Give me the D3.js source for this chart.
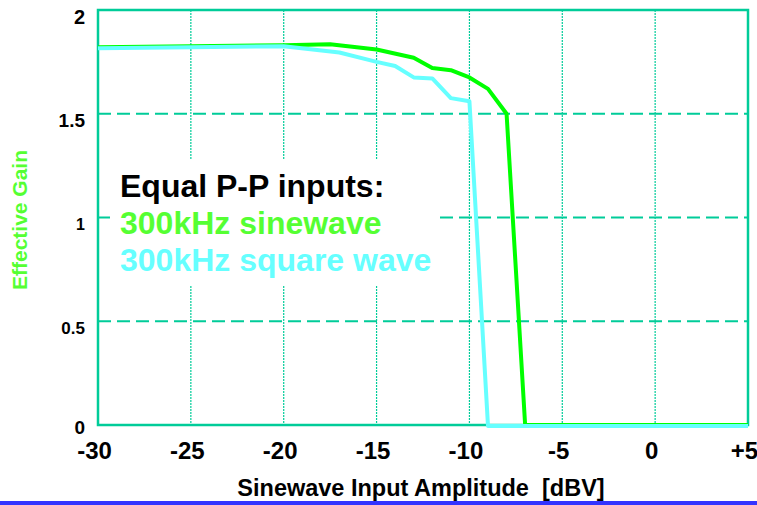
<!DOCTYPE html>
<html lang="en">
<head>
  <meta charset="UTF-8">
  <title>Effective Gain</title>
  <script src="https://cdn.jsdelivr.net/npm/d3@7"></script>
  <style>
    body { margin: 0; background: #fff; }
    text { font-family: Arial, "Liberation Sans", sans-serif; font-weight: bold; }
  </style>
</head>
<body>
<svg class="chart"></svg>
<script>
  var svgWidth = 757;
  var svgHeight = 505;

  // data
  var sineX = [-30, -25, -20, -17.5, -15, -13, -12, -11, -10, -9, -8, -7, 5];
  var sineGain = [1.82, 1.825, 1.83, 1.835, 1.81, 1.77, 1.72, 1.71, 1.675, 1.62, 1.5, 0, 0];
  var squareX = [-30, -25, -20, -17, -15, -14, -13, -12, -11, -10, -9, 5];
  var squareGain = [1.82, 1.825, 1.83, 1.80, 1.755, 1.735, 1.68, 1.675, 1.58, 1.565, 0, 0];

  var xTicks = [-30, -25, -20, -15, -10, -5, 0, 5];
  var xTickLabels = ['-30', '-25', '-20', '-15', '-10', '-5', '0', '+5'];
  var yTicks = [0, 0.5, 1, 1.5, 2];
  var yTickLabels = ['0', '0.5', '1', '1.5', '2'];
  var yLabelSize = {0: 19, 0.5: 17, 1: 16, 1.5: 19, 2: 20};

  var legendLines = ['Equal P-P inputs:', '300kHz sinewave', '300kHz square wave'];
  var legendColors = ['#000000', '#55ff33', '#66ffff'];

  var gridColor = '#00cc99';

  var svg = d3.select('.chart')
    .attr('width', svgWidth)
    .attr('height', svgHeight);

  var xScale = d3.scaleLinear().domain([-30, 5]).range([98, 748]);
  var yScale = d3.scaleLinear().domain([0, 2]).range([425, 10]);

  // vertical dotted grid
  svg.append('g').selectAll('line')
    .data(xTicks.slice(1, -1))
    .enter().append('line')
    .attr('x1', function(d) { return xScale(d); })
    .attr('x2', function(d) { return xScale(d); })
    .attr('y1', yScale(2))
    .attr('y2', yScale(0))
    .attr('stroke', gridColor)
    .attr('stroke-width', 1.2)
    .attr('stroke-dasharray', '2,1');

  // horizontal dashed grid
  svg.append('g').selectAll('line')
    .data(yTicks.slice(1, -1))
    .enter().append('line')
    .attr('x1', xScale(-30))
    .attr('x2', xScale(5))
    .attr('y1', function(d) { return yScale(d); })
    .attr('y2', function(d) { return yScale(d); })
    .attr('stroke', gridColor)
    .attr('stroke-width', 2)
    .attr('stroke-dasharray', '13,6');

  // frame
  svg.append('rect')
    .attr('x', xScale(-30))
    .attr('y', yScale(2))
    .attr('width', xScale(5) - xScale(-30))
    .attr('height', yScale(0) - yScale(2))
    .attr('fill', 'none')
    .attr('stroke', gridColor)
    .attr('stroke-width', 2.5);

  // legend box hides the grid behind it
  svg.append('rect')
    .attr('x', 110)
    .attr('y', 160)
    .attr('width', 330)
    .attr('height', 125)
    .attr('fill', '#fff');

  var line = d3.line()
    .x(function(d) { return xScale(d[0]); })
    .y(function(d) { return yScale(d[1]); });

  svg.append('path')
    .datum(d3.zip(sineX, sineGain))
    .attr('d', line)
    .attr('fill', 'none')
    .attr('stroke', '#00ff00')
    .attr('stroke-width', 4)
    .attr('stroke-linejoin', 'round');

  svg.append('path')
    .datum(d3.zip(squareX, squareGain))
    .attr('d', line)
    .attr('fill', 'none')
    .attr('stroke', '#66ffff')
    .attr('stroke-width', 4)
    .attr('stroke-linejoin', 'round')
    .attr('transform', 'translate(0,1)');

  // x axis labels
  var xAxis = d3.axisBottom(xScale)
    .tickValues(xTicks)
    .tickSize(0)
    .tickFormat(function(d, i) { return xTickLabels[i]; });
  var gx = svg.append('g')
    .attr('transform', 'translate(-4,' + yScale(0) + ')')
    .call(xAxis);
  gx.select('.domain').remove();
  gx.selectAll('text')
    .attr('y', 34)
    .attr('dy', 0)
    .attr('fill', '#000')
    .style('font-size', '24px')
    .style('font-weight', 'bold')
    .style('font-family', 'Arial, "Liberation Sans", sans-serif');

  // y axis labels
  var yAxis = d3.axisLeft(yScale)
    .tickValues(yTicks)
    .tickSize(0)
    .tickFormat(function(d, i) { return yTickLabels[i]; });
  var gy = svg.append('g')
    .attr('transform', 'translate(85,0)')
    .call(yAxis);
  gy.select('.domain').remove();
  gy.selectAll('.tick text')
    .attr('x', 0)
    .attr('y', function(d) { return d === 0 ? 2 : 7; })
    .attr('fill', '#000')
    .style('font-size', function(d) { return yLabelSize[d] + 'px'; })
    .style('font-weight', 'bold')
    .style('font-family', 'Arial, "Liberation Sans", sans-serif');

  // axis titles
  svg.append('text')
    .attr('x', 421)
    .attr('y', 496)
    .attr('text-anchor', 'middle')
    .attr('fill', '#000')
    .attr('xml:space', 'preserve')
    .style('font-size', '23.5px')
    .text('Sinewave Input Amplitude  [dBV]');

  svg.append('text')
    .attr('transform', 'translate(27,220) rotate(-90)')
    .attr('text-anchor', 'middle')
    .attr('fill', '#55ff33')
    .style('font-size', '21px')
    .text('Effective Gain');

  // legend text
  svg.append('g').selectAll('text')
    .data(legendLines)
    .enter().append('text')
    .attr('x', 120)
    .attr('y', function(d, i) { return 197 + i * 37; })
    .attr('fill', function(d, i) { return legendColors[i]; })
    .style('font-size', '32px')
    .text(function(d) { return d; });

  // blue rule along the bottom edge
  svg.append('line')
    .attr('x1', 0)
    .attr('x2', svgWidth)
    .attr('y1', 503)
    .attr('y2', 503)
    .attr('stroke', '#3333ff')
    .attr('stroke-width', 4);
</script>
</body>
</html>
